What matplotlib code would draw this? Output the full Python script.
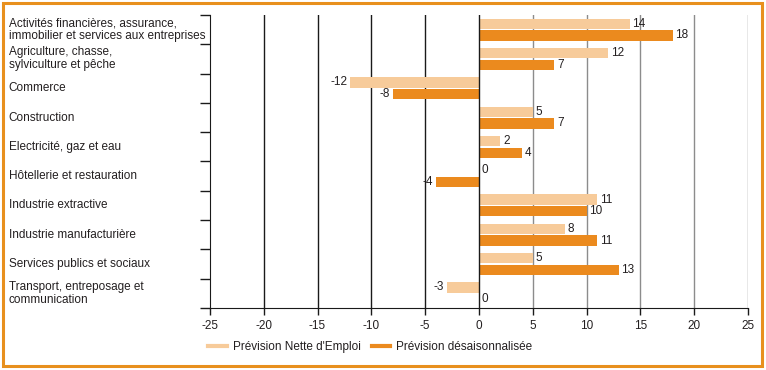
import numpy as np
import matplotlib
matplotlib.use('Agg')
import matplotlib.pyplot as plt
from matplotlib.patches import Rectangle
from matplotlib.lines import Line2D

plt.rcParams['font.family'] = ['Liberation Sans', 'DejaVu Sans']

# Données
secteurs = [
    "Activités financières, assurance,\nimmobilier et services aux entreprises",
    "Agriculture, chasse,\nsylviculture et pêche",
    "Commerce",
    "Construction",
    "Electricité, gaz et eau",
    "Hôtellerie et restauration",
    "Industrie extractive",
    "Industrie manufacturière",
    "Services publics et sociaux",
    "Transport, entreposage et\ncommunication",
]
prevision_nette = [14, 12, -12, 5, 2, 0, 11, 8, 5, -3]
prevision_desais = [18, 7, -8, 7, 4, -4, 10, 11, 13, 0]
x_ticks = [-25, -20, -15, -10, -5, 0, 5, 10, 15, 20, 25]

C_LIGHT = '#F7CB9A'
C_DARK = '#EB8A1E'
C_BORDER = '#E8901E'
C_TEXT = '#231F20'
FS = 8.5

fig = plt.figure(figsize=(7.66, 3.70), dpi=100)
ax = fig.add_axes([0.274, 0.1676, 0.7025, 0.7919])

n = len(secteurs)
y = np.arange(n)
h = 0.35
ax.barh(y - 0.2, prevision_nette, height=h, color=C_LIGHT, zorder=3)
ax.barh(y + 0.2, prevision_desais, height=h, color=C_DARK, zorder=3)

for i in range(n):
    for val, off in ((prevision_nette[i], -0.2), (prevision_desais[i], 0.2)):
        if val < 0:
            ax.text(val - 0.25, y[i] + off, str(val), ha='right', va='center',
                    fontsize=FS, color=C_TEXT)
        else:
            ax.text(val + 0.25, y[i] + off, str(val), ha='left', va='center',
                    fontsize=FS, color=C_TEXT)

ax.set_xlim(-25, 25)
ax.set_ylim(n - 0.5, -0.5)

# grille verticale
for xv in x_ticks[1:]:
    col = '#1a1a1a' if xv <= 0 else '#8c8c8c'
    ax.axvline(xv, color=col, linewidth=1.0, zorder=1 if xv != 0 else 4)

ax.set_xticks(x_ticks)
ax.set_xticklabels([str(v) for v in x_ticks], fontsize=FS, color=C_TEXT)
ax.set_yticks(np.arange(n + 1) - 0.5)
ax.set_yticklabels([])
ax.tick_params(axis='y', length=7, width=1, color='#1a1a1a')
ax.tick_params(axis='x', length=5, width=1, color='#1a1a1a', pad=4)

for s in ('top', 'right'):
    ax.spines[s].set_visible(False)
ax.spines['left'].set_color('#1a1a1a')
ax.spines['bottom'].set_color('#1a1a1a')

for i, lab in enumerate(secteurs):
    ax.text(-0.374, y[i], lab, transform=ax.get_yaxis_transform(),
            ha='left', va='center', fontsize=FS, color=C_TEXT, linespacing=1.1)

handles = [Line2D([0], [0], color=C_LIGHT, lw=3),
           Line2D([0], [0], color=C_DARK, lw=3)]
fig.legend(handles, ['Prévision Nette d\'Emploi', 'Prévision désaisonnalisée'],
           loc='center left', bbox_to_anchor=(0.258, 0.062), ncol=2, frameon=False,
           fontsize=FS, handlelength=1.6, handletextpad=0.5, columnspacing=0.9,
           labelcolor=C_TEXT)

fig.patches.append(Rectangle((0.004, 0.01), 0.991, 0.982, transform=fig.transFigure,
                             fill=False, edgecolor=C_BORDER, linewidth=2.2))

fig.savefig('out.png', dpi=100)
